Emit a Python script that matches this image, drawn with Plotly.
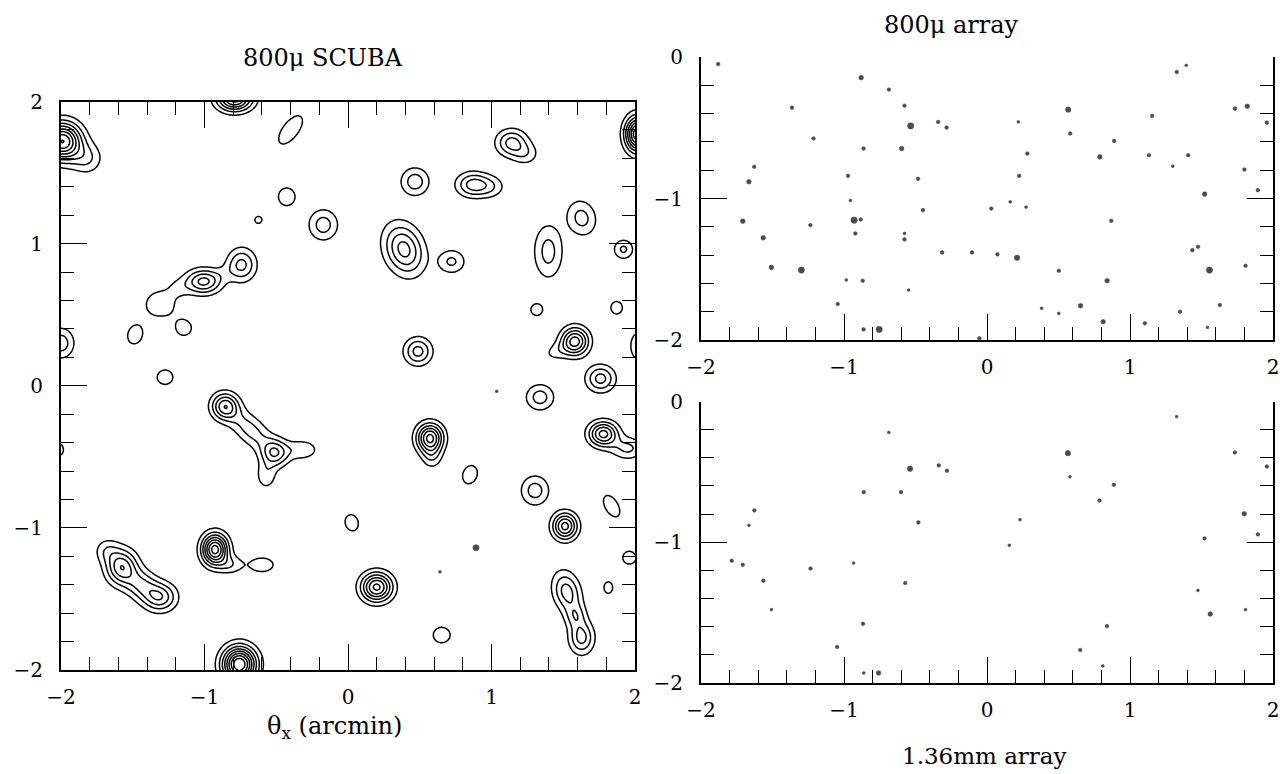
import numpy as np
import plotly.graph_objects as go

FONT = "DejaVu Serif"

# ---------------- Left panel: 800u SCUBA map, sources read from the contour map ----------------
# position (arcmin), peak level (in contour steps), widths (arcmin), rotation (deg)
src_x = [-1.99, -1.82, -0.79, -0.40, 1.14, 1.24, 2.02, 0.467, 0.87, 1.00, -0.427, -0.625, -0.172,
         0.39, 0.722, 1.396, 1.628, 1.92, -1.008, -0.741, -0.875, -1.31, -1.18, 1.315, 1.872, -1.484,
         -1.143, -2.00, 0.488, 1.582, 1.45, 2.03, -1.275, 1.76, 1.338, -0.857, -0.509, -0.68, -0.32,
         -0.57, 0.571, 0.585, 0.85, 1.303, 1.779, 1.95, 1.837, 1.512, 0.026, -0.927, -0.82, -0.60,
         0.20, -1.577, -1.31, -1.44, -1.68, 1.96, 1.814, 1.525, 1.628, 1.585, 0.653, -0.757, -2.02]
src_y = [1.72, 1.60, 2.02, 1.80, 1.71, 1.63, 1.77, 1.436, 1.415, 1.40, 1.33, 1.167, 1.132,
         0.96, 0.874, 0.945, 1.18, 0.96, 0.733, 0.851, 0.79, 0.575, 0.69, 0.535, 0.549, 0.359,
         0.406, 0.30, 0.242, 0.312, 0.24, 0.28, 0.06, 0.05, -0.081, -0.145, -0.472, -0.31, -0.45,
         -0.63, -0.367, -0.50, -0.625, -0.737, -0.339, -0.44, -0.847, -0.988, -0.964, -1.152, -1.26, -1.26,
         -1.417, -1.276, -1.487, -1.40, -1.16, -1.21, -1.42, -1.45, -1.772, -1.62, -1.754, -1.96, -0.45]
src_amp = [8.0, 2.0, 6.5, 1.5, 3.4, 1.5, 8.0, 2.6, 3.4, 1.5, 1.4, 1.12, 2.5,
           4.4, 2.2, 2.4, 2.4, 2.2, 4.3, 3.3, 0.5, 1.7, 0.9, 1.3, 1.3, 1.4,
           1.35, 2.6, 3.4, 5.5, 1.2, 2.0, 1.35, 3.4, 2.5, 4.5, 3.6, 2.4, 1.8,
           1.7, 6.3, 1.6, 1.4, 2.5, 5.4, 2.2, 1.4, 5.4, 1.4, 7.5, 1.6, 1.45,
           6.3, 4.8, 3.8, 2.8, 1.6, 1.5, 1.25, 3.5, 3.4, 2.0, 1.5, 9.0, 1.4]
src_sx = [0.09, 0.075, 0.085, 0.06, 0.075, 0.065, 0.06, 0.07, 0.08, 0.07, 0.07, 0.05, 0.073,
          0.09, 0.068, 0.072, 0.072, 0.05, 0.085, 0.07, 0.07, 0.09, 0.06, 0.055, 0.055, 0.061,
          0.065, 0.065, 0.067, 0.066, 0.07, 0.05, 0.07, 0.07, 0.07, 0.065, 0.065, 0.14, 0.08,
          0.05, 0.064, 0.05, 0.06, 0.07, 0.07, 0.08, 0.055, 0.06, 0.055, 0.062, 0.06, 0.09,
          0.075, 0.075, 0.08, 0.08, 0.06, 0.05, 0.045, 0.065, 0.06, 0.05, 0.065, 0.08, 0.045]
src_sy = [0.09, 0.075, 0.06, 0.13, 0.065, 0.055, 0.085, 0.07, 0.06, 0.055, 0.075, 0.05, 0.078,
          0.125, 0.06, 0.135, 0.09, 0.05, 0.06, 0.08, 0.04, 0.08, 0.05, 0.055, 0.06, 0.079,
          0.065, 0.075, 0.067, 0.068, 0.045, 0.08, 0.065, 0.065, 0.065, 0.065, 0.065, 0.065, 0.05,
          0.07, 0.07, 0.06, 0.08, 0.075, 0.06, 0.055, 0.1, 0.065, 0.07, 0.075, 0.045, 0.055,
          0.07, 0.085, 0.07, 0.07, 0.06, 0.05, 0.06, 0.1, 0.08, 0.06, 0.06, 0.085, 0.055]
src_rot = [0, 0, 0, -37, 0, 0, 0, 0, 0, 0, 0, 0, 0,
           20, 0, 0, 15, 0, 0, 0, 25, 0, 0, 0, 0, -15,
           0, 0, 0, 0, 20, 0, 0, 0, 0, 0, 0, -43, 0,
           0, 0, 0, -20, 0, 0, 0, 30, 0, 15, 0, 0, 0,
           0, 0, 0, -40, 0, 0, 0, 15, 0, 0, 0, 0, 0]

# isolated points plotted on the map
map_dot_x = [0.892, 0.641, 1.036]
map_dot_y = [-1.14, -1.31, -0.04]
map_dot_flux = [4, 0, 0]

# contour levels
level_start, level_end, level_step = 1, 10, 1

# ---------------- Right panels: point sources found by the arrays ----------------
a800_x = [-1.88, -0.88, -0.686, -1.364, -0.577, -0.534, -0.342, -0.282, -1.213, -0.863, -0.597,
          -1.628, -1.665, -0.972, -0.482, -0.955, -0.448, -0.929, -0.883, -1.708, -1.235, -0.921,
          -0.577, -0.577, -1.565, -0.314, -0.105, 0.073, 0.21, -1.508, -1.298, -0.984, -0.869,
          -0.548, -1.044, -0.863, -0.754, 0.219, 0.568, 0.582, 0.282, 0.225, 0.162, 0.03, 0.273,
          0.889, 0.789, 0.869, 1.155, 1.132, 1.407, 1.299, 1.327, 1.393, 1.734, 1.82, 1.957,
          1.8, 1.894, 1.522, 1.436, 1.476, 1.556, 1.808, 0.502, 0.84, 0.382, 0.502, 0.654,
          0.812, 1.104, 1.35, 1.542, 1.628, -0.053]
a800_y = [-0.05, -0.146, -0.23, -0.358, -0.344, -0.487, -0.459, -0.499, -0.576, -0.647, -0.647,
          -0.776, -0.882, -0.84, -0.861, -1.014, -1.082, -1.153, -1.148, -1.16, -1.188, -1.247,
          -1.247, -1.289, -1.278, -1.381, -1.381, -1.395, -1.419, -1.487, -1.506, -1.576, -1.581,
          -1.647, -1.746, -1.925, -1.925, -0.459, -0.372, -0.541, -0.682, -0.84, -1.024, -1.071, -1.061,
          -0.593, -0.706, -1.158, -0.416, -0.694, -0.694, -0.772, -0.106, -0.059, -0.365, -0.348, -0.464,
          -0.795, -0.941, -0.969, -1.365, -1.341, -1.506, -1.475, -1.511, -1.581, -1.776, -1.812, -1.758,
          -1.871, -1.882, -1.8, -1.911, -1.753, -1.988]
a800_flux = [1, 2, 1, 1, 1, 4, 1, 1, 1, 1, 2,
             1, 2, 1, 1, 0, 1, 4, 1, 2, 1, 1,
             0, 1, 2, 1, 1, 1, 3, 2, 4, 0, 1,
             0, 1, 1, 4, 0, 3, 1, 1, 1, 0, 1, 0,
             1, 2, 1, 1, 1, 1, 0, 1, 0, 1, 2, 1,
             1, 1, 2, 1, 1, 4, 1, 1, 2, 0, 0, 2,
             2, 1, 1, 0, 1, 1]

a136_x = [-0.687, 1.326, 0.566, 1.733, 1.957, -0.538, -0.337, -0.28, 0.58, 0.887, -0.862, -0.601,
          0.787, -1.627, -1.665, -0.48, 0.231, 1.799, 1.521, 1.894, 0.156, -1.785, -1.708, -0.933,
          -1.234, -1.564, -0.572, 1.475, 1.561, 1.808, -1.507, -0.867, 0.839, -1.048, 0.652, 0.81,
          -0.862, -0.758]
a136_y = [-0.22, -0.107, -0.367, -0.362, -0.462, -0.478, -0.454, -0.492, -0.535, -0.592, -0.644, -0.644,
          -0.703, -0.774, -0.88, -0.859, -0.84, -0.798, -0.973, -0.944, -1.022, -1.131, -1.16, -1.148,
          -1.186, -1.273, -1.29, -1.342, -1.51, -1.479, -1.479, -1.579, -1.595, -1.744, -1.766, -1.879,
          -1.929, -1.929]
a136_flux = [0, 0, 3, 1, 1, 3, 1, 1, 0, 1, 1, 1,
             1, 1, 0, 1, 0, 2, 1, 1, 0, 1, 1, 0,
             1, 1, 1, 0, 2, 0, 0, 1, 1, 1, 1, 0,
             0, 2]

# ---------------- build map ----------------
grid = np.linspace(-2, 2, 401)
GX, GY = np.meshgrid(grid, grid)
Z = np.zeros_like(GX)
for x0, y0, a, sx, sy, r in zip(src_x, src_y, src_amp, src_sx, src_sy, src_rot):
    t = np.deg2rad(r)
    dx, dy = GX - x0, GY - y0
    u = dx * np.cos(t) + dy * np.sin(t)
    v = -dx * np.sin(t) + dy * np.cos(t)
    Z += a * np.exp(-(u ** 2 / (2 * sx ** 2) + v ** 2 / (2 * sy ** 2)))

msize = {0: 2.8, 1: 3.6, 2: 4.6, 3: 5.4, 4: 6.2}

fig = go.Figure()
fig.add_trace(go.Contour(
    x=grid, y=grid, z=Z,
    contours=dict(coloring="lines", start=level_start, end=level_end, size=level_step),
    colorscale=[[0, "black"], [1, "black"]], showscale=False,
    line=dict(width=1.5, smoothing=1.0), hoverinfo="skip",
    xaxis="x", yaxis="y"))


def dots(xs, ys, flux, xa, ya):
    return go.Scatter(x=xs, y=ys, mode="markers", xaxis=xa, yaxis=ya, showlegend=False,
                      hoverinfo="skip",
                      marker=dict(color="black", size=[msize[f] for f in flux],
                                  line=dict(color="black", width=0.6)))


fig.add_trace(dots(map_dot_x, map_dot_y, map_dot_flux, "x", "y"))
fig.add_trace(dots(a800_x, a800_y, a800_flux, "x2", "y2"))
fig.add_trace(dots(a136_x, a136_y, a136_flux, "x3", "y3"))

W, H = 1283, 774


def px_x(p):
    return p / W


def px_y(p):
    return 1 - p / H


def axis(rng, dom, anchor, mirror, side_x=True):
    return dict(range=rng, domain=dom, anchor=anchor, showline=True, linecolor="black", linewidth=2,
                mirror=mirror, ticks="inside", ticklen=26, tickwidth=1.4, tickcolor="black",
                tick0=0, dtick=1, showgrid=False, zeroline=False, automargin=False,
                minor=dict(ticks="inside", dtick=0.2, tick0=0, ticklen=13, tickwidth=1.4,
                           tickcolor="black", showgrid=False),
                tickfont=dict(family=FONT, size=20, color="black"),
                ticklabelstandoff=8 if side_x else 12, fixedrange=True)


def label(text, x, y, size=24):
    return dict(text=text, x=px_x(x), y=px_y(y), xref="paper", yref="paper",
                xanchor="center", yanchor="middle", showarrow=False,
                font=dict(family=FONT, size=size, color="black"))


fig.update_layout(
    width=W, height=H, margin=dict(l=0, r=0, t=0, b=0),
    paper_bgcolor="white", plot_bgcolor="white", showlegend=False,
    xaxis=axis([-2, 2], [px_x(61), px_x(635)], "y", "allticks"),
    yaxis=axis([-2, 2], [px_y(670), px_y(101.5)], "x", "allticks", side_x=False),
    xaxis2=axis([-2, 2], [px_x(701), px_x(1273)], "y2", False),
    yaxis2=axis([-2, 0], [px_y(340), px_y(57)], "x2", "ticks", side_x=False),
    xaxis3=axis([-2, 2], [px_x(701), px_x(1273)], "y3", False),
    yaxis3=axis([-2, 0], [px_y(683), px_y(401.5)], "x3", "ticks", side_x=False),
    font=dict(family=FONT, color="black"),
    annotations=[
        label("800\u03bc SCUBA", 323, 58),
        label("\u03b8<sub>x</sub> (arcmin)", 335, 727),
        label("800\u03bc array", 951, 25),
        label("1.36mm array", 984, 756, size=23),
    ],
)

fig.write_html("out.html", config={"displayModeBar": False},
               post_script="document.body.style.margin='0';document.body.style.overflow='hidden';")
